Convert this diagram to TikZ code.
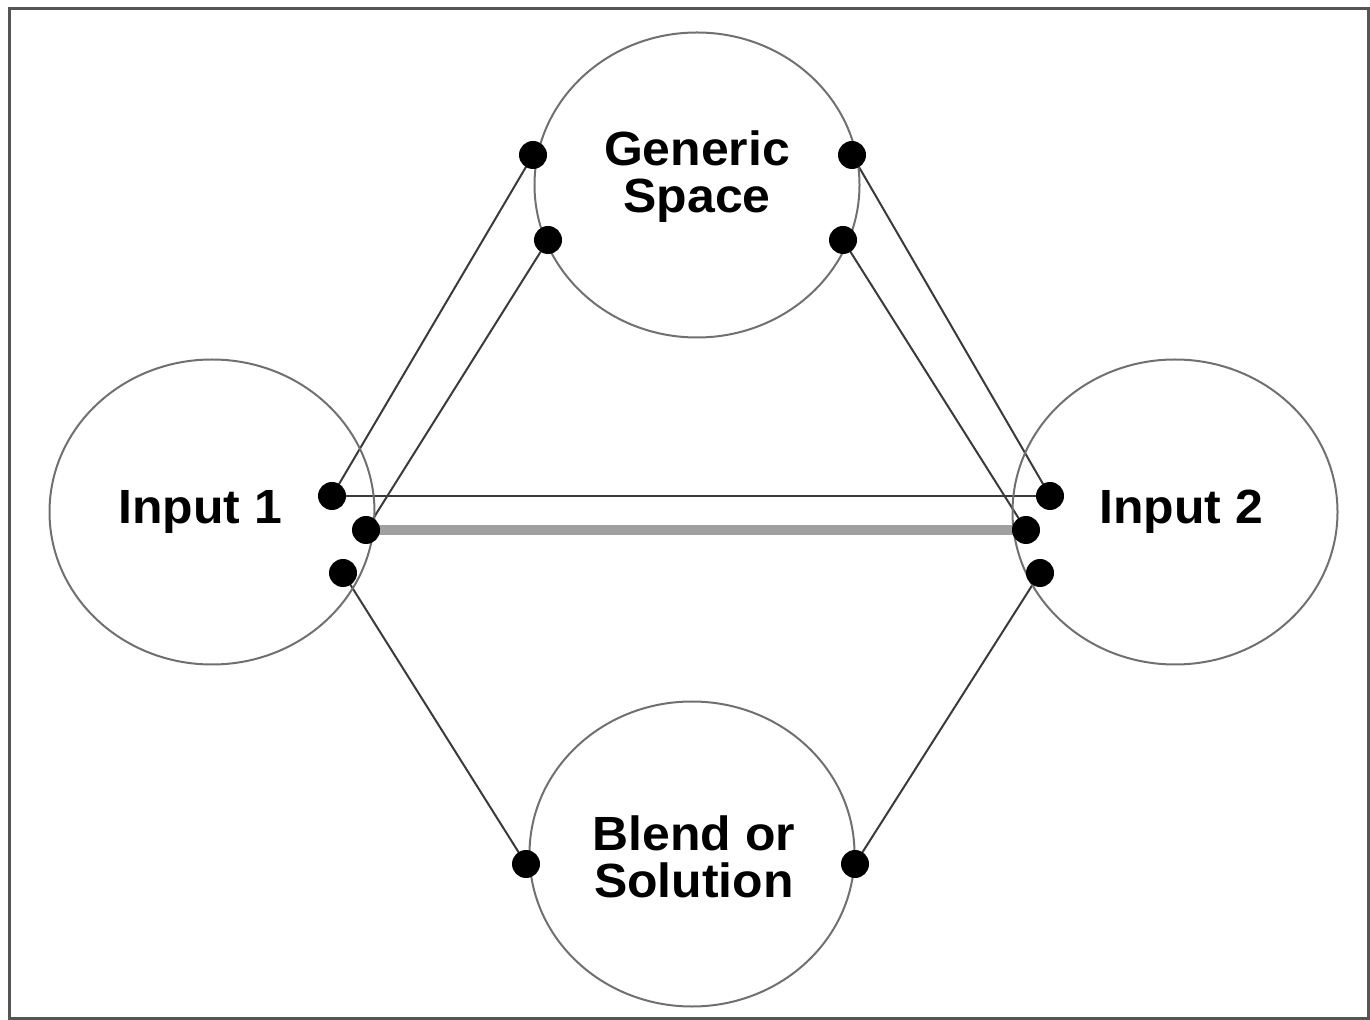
\documentclass[tikz,border=0pt]{standalone}
\usepackage{fontspec}
\setmainfont{Liberation Sans}
\usetikzlibrary{shapes.geometric,backgrounds}
\definecolor{linec}{HTML}{3A3A3A}
\definecolor{ringc}{HTML}{707070}
\definecolor{barc}{HTML}{A0A0A0}
\definecolor{framec}{HTML}{555555}
\tikzset{
  ring/.style={draw=ringc, line width=1pt, ellipse, minimum width=162.5pt, minimum height=152.5pt, inner sep=0pt},
  dot/.style={circle, fill=black, minimum size=14pt, inner sep=0pt},
  link/.style={draw=linec, line width=1pt},
  bar/.style={draw=barc, line width=5pt},
  lbl/.style={font=\fontsize{24}{23.5}\selectfont\bfseries, align=center, text=black, inner sep=0pt, xscale=1.04}
}
\begin{document}
\begin{tikzpicture}[x=0.5pt,y=-0.5pt]
\useasboundingbox (0,0) rectangle (1370,1020);
\draw[framec, line width=1.5pt] (9,8.5) rectangle (1368,1018.5);
% circles
\node[ring] (gen) at (697,185) {};
\node[ring] (in1) at (212,512) {};
\node[ring] (in2) at (1175,512) {};
\node[ring] (bln) at (692,854) {};
% labels
\node[lbl] (tgen) at (697,177) {Generic\\Space};
\node[lbl] (tin1) at (200,512) {Input 1};
\node[lbl] (tin2) at (1181,512) {Input 2};
\node[lbl] (tbln) at (694,857) {Blend or\\Solution};
% dots
\node[dot] (g1) at (533,155) {};
\node[dot] (g2) at (548,240) {};
\node[dot] (g3) at (852,155) {};
\node[dot] (g4) at (843,240) {};
\node[dot] (a1) at (332,496) {};
\node[dot] (a2) at (366,530) {};
\node[dot] (a3) at (343,573) {};
\node[dot] (b1) at (1050,496) {};
\node[dot] (b2) at (1026,530) {};
\node[dot] (b3) at (1040,573) {};
\node[dot] (s1) at (526,864) {};
\node[dot] (s2) at (855,864) {};
\begin{scope}[on background layer]
\draw[bar] (a2.center) -- (b2.center);
\draw[link] (a1.center) -- (b1.center);
\draw[link] (g1.center) -- (a1.center);
\draw[link] (g2.center) -- (a2.center);
\draw[link] (g3.center) -- (b1.center);
\draw[link] (g4.center) -- (b2.center);
\draw[link] (a3.center) -- (s1.center);
\draw[link] (b3.center) -- (s2.center);
\end{scope}
\end{tikzpicture}
\end{document}
